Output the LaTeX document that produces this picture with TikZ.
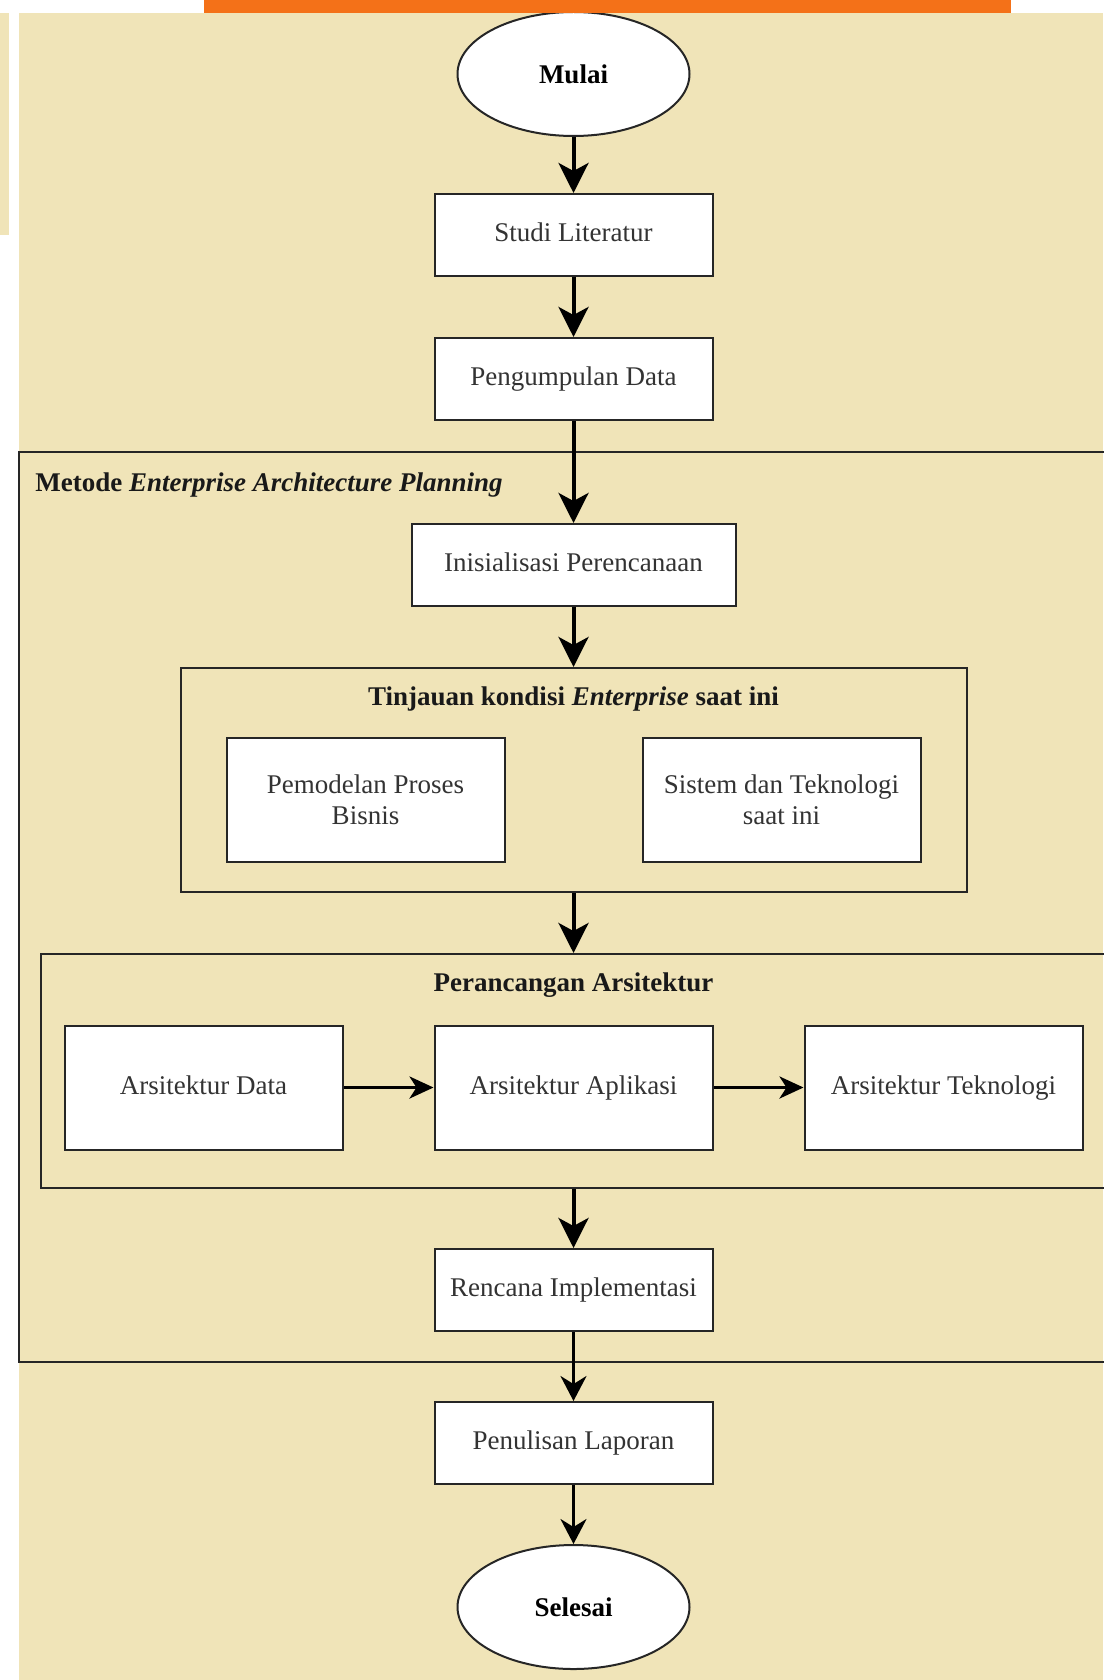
\documentclass[tikz,border=0pt]{standalone}
\usepackage{fontspec}
\setmainfont{Liberation Serif}
\usetikzlibrary{positioning,arrows.meta,shapes.geometric}
\definecolor{bgbeige}{RGB}{240,228,184}
\definecolor{topbar}{RGB}{244,113,24}
\definecolor{boxtext}{RGB}{51,51,51}

\begin{document}
\begin{tikzpicture}[x=0.5pt, y=-0.5pt, node distance=30pt,
    font=\fontsize{13.5}{15.5}\selectfont,
    proc/.style={draw=black!85, line width=1pt, fill=white, text=boxtext, minimum width=139pt, minimum height=41pt, align=center, inner sep=2pt, text height=9.5pt, text depth=3pt},
    wideproc/.style={proc, minimum height=62pt},
    twolineproc/.style={draw=black!85, line width=1pt, fill=white, text=boxtext, minimum width=139pt, minimum height=62pt, align=center, inner sep=2pt},
    terminal/.style={ellipse, draw=black!85, line width=1pt, fill=white, minimum width=116pt, minimum height=62pt, font=\fontsize{13.5}{15.5}\selectfont\bfseries},
    group/.style={draw=black!85, line width=1pt},
    grouptitle/.style={font=\fontsize{13.5}{15.5}\selectfont\bfseries, text=black!90, inner sep=0pt},
    flow/.style={line width=2pt, -{Stealth[length=15pt, width=15pt, inset=4pt]}},
    thinflow/.style={line width=1.5pt, -{Stealth[length=12.5pt, width=13pt, inset=4pt]}},
    sideflow/.style={line width=1.75pt, -{Stealth[length=12pt, width=11pt, inset=3.5pt]}}]
    \useasboundingbox (0,0) rectangle (1103,1680);
    \fill[white] (0,0) rectangle (1103,1680);
    \fill[bgbeige] (0,13) rectangle (8.5,235);
    \fill[bgbeige] (19,13) rectangle (1103,1680);

    \node[group, minimum width=554.5pt, minimum height=455pt] (metode) at (573.5,907) {};
    \node[grouptitle, anchor=west] (metodetitle) at ([xshift=8.5pt, yshift=-17pt]metode.north west) {Metode \textit{Enterprise Architecture Planning}};

    \node[terminal] (mulai) at (573.5,74) {Mulai};
    \node[proc] (studi) [below=28pt of mulai] {Studi Literatur};
    \node[proc] (pengumpulan) [below=of studi] {Pengumpulan Data};
    \node[proc, minimum width=162pt] (inisialisasi) [below=51pt of pengumpulan] {Inisialisasi Perencanaan};

    \node[group, minimum width=393pt, minimum height=112pt] (tinjauan) [below=of inisialisasi] {};
    \node[grouptitle] (tinjauantitle) at ([yshift=-16pt]tinjauan.north) {Tinjauan kondisi \textit{Enterprise} saat ini};
    \node[twolineproc] (pemodelan) at ([xshift=-104pt, yshift=-10pt]tinjauan.center) {Pemodelan Proses\\Bisnis};
    \node[twolineproc] (sistem) at ([xshift=104pt, yshift=-10pt]tinjauan.center) {Sistem dan Teknologi\\saat ini};

    \node[group, minimum width=532.5pt, minimum height=117pt] (perancangan) [below=of tinjauan] {};
    \node[grouptitle] (perancangantitle) at ([yshift=-16pt]perancangan.north) {Perancangan Arsitektur};
    \node[wideproc] (aplikasi) at ([yshift=-8.25pt]perancangan.center) {Arsitektur Aplikasi};
    \node[wideproc] (data) [left=45pt of aplikasi] {Arsitektur Data};
    \node[wideproc] (teknologi) [right=45pt of aplikasi] {Arsitektur Teknologi};

    \node[proc] (rencana) [below=29.5pt of perancangan] {Rencana Implementasi};
    \node[proc] (penulisan) [below=34.5pt of rencana] {Penulisan Laporan};
    \node[terminal] (selesai) [below=29.5pt of penulisan] {Selesai};

    \path[flow]
        (mulai) edge (studi)
        (studi) edge (pengumpulan)
        (pengumpulan) edge (inisialisasi)
        (inisialisasi) edge (tinjauan)
        (tinjauan) edge (perancangan)
        (perancangan) edge (rencana);
    \path[thinflow]
        (rencana) edge (penulisan)
        (penulisan) edge (selesai);
    \path[sideflow]
        (data) edge (aplikasi)
        (aplikasi) edge (teknologi);

    \fill[topbar] (204,0) rectangle (1011,13);
\end{tikzpicture}
\end{document}
